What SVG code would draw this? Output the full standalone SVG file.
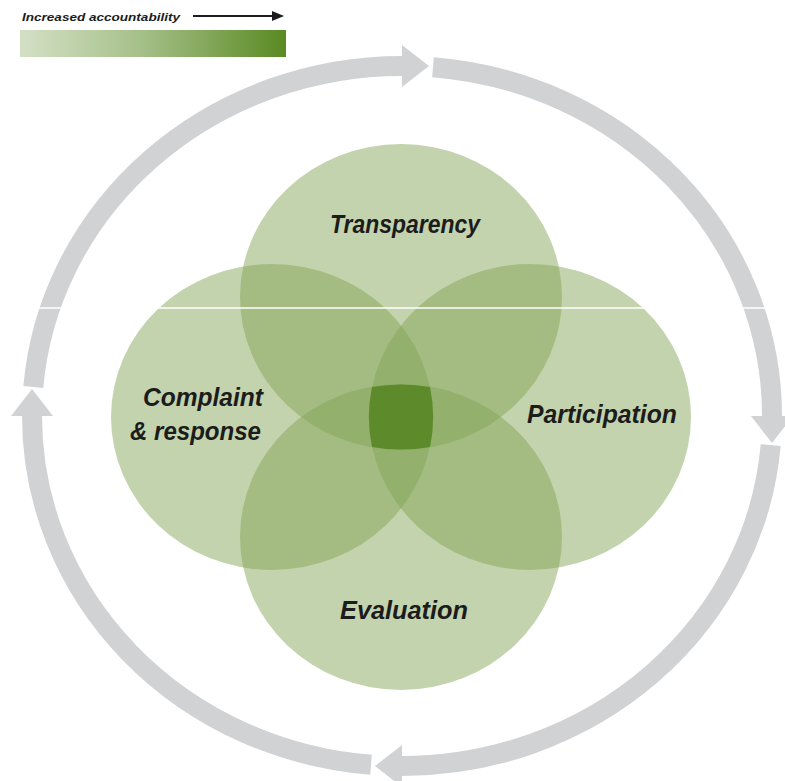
<svg xmlns="http://www.w3.org/2000/svg" width="785" height="781" viewBox="0 0 785 781">
<defs>
<style>
.lbl{font-family:"Liberation Sans",Arial,sans-serif;font-weight:bold;font-style:italic;font-size:25px;fill:#1c1c1c}
.leg{font-family:"Liberation Sans",Arial,sans-serif;font-weight:bold;font-style:italic;font-size:11px;fill:#1c1c1c}
.ring{fill:none;stroke:#d1d2d4;stroke-width:20;stroke-linecap:butt;marker-end:url(#ah)}
.petal{fill:#82a354;fill-opacity:0.48}
</style>
<linearGradient id="grad" x1="0" y1="0" x2="1" y2="0">
<stop offset="0" stop-color="#d4e0c6"/>
<stop offset="0.45" stop-color="#a6c08a"/>
<stop offset="1" stop-color="#5a8a22"/>
</linearGradient>
<marker id="ah" markerUnits="userSpaceOnUse" viewBox="0 0 27 42" refX="0" refY="21" markerWidth="27" markerHeight="42" orient="auto">
<path d="M0,0 L27,21 L0,42 Z" fill="#d1d2d4"/>
</marker>
<marker id="lah" markerUnits="userSpaceOnUse" viewBox="0 0 12 10" refX="0" refY="5" markerWidth="12" markerHeight="10" orient="auto">
<path d="M0,0 L12,5 L0,10 Z" fill="#1c1c1c"/>
</marker>
</defs>
<rect width="785" height="781" fill="#ffffff"/>

<g id="legend">
<text class="leg" x="22" y="21" textLength="158" lengthAdjust="spacingAndGlyphs">Increased accountability</text>
<line x1="193" y1="16" x2="272" y2="16" stroke="#1c1c1c" stroke-width="2" marker-end="url(#lah)"/>
<rect x="20" y="30" width="266" height="27" fill="url(#grad)"/>
</g>

<g id="connectors">
<path class="ring" d="M33.3,387 A370,350 0 0 1 402,66"/>
<path class="ring" d="M433,67.2 A370,350 0 0 1 772,416"/>
<path class="ring" d="M770.7,445 A370,350 0 0 1 402,766"/>
<path class="ring" d="M371,764.8 A370,350 0 0 1 32,416"/>
</g>

<g id="transparency">
<ellipse class="petal" cx="401" cy="297" rx="161" ry="153"/>
</g>
<g id="complaint">
<ellipse class="petal" cx="272" cy="417" rx="161" ry="153"/>
</g>
<g id="participation">
<ellipse class="petal" cx="530" cy="417" rx="161" ry="153"/>
</g>
<g id="evaluation">
<ellipse class="petal" cx="401" cy="537" rx="161" ry="153"/>
</g>
<g id="core">
<path d="M372,387 A161,153 0 0 1 430,387 A161,153 0 0 1 430,447 A161,153 0 0 1 372,447 A161,153 0 0 1 372,387 Z" fill="#5d8a2b"/>
</g>

<line x1="30" y1="308" x2="785" y2="308" stroke="#ffffff" stroke-width="1.5"/>

<g id="labels">
<text class="lbl" x="330" y="233" textLength="150" lengthAdjust="spacingAndGlyphs">Transparency</text>
<text class="lbl" x="143" y="406" textLength="120" lengthAdjust="spacingAndGlyphs">Complaint</text>
<text class="lbl" x="130" y="440" textLength="131" lengthAdjust="spacingAndGlyphs">&amp; response</text>
<text class="lbl" x="527" y="423" textLength="150" lengthAdjust="spacingAndGlyphs">Participation</text>
<text class="lbl" x="340" y="619" textLength="128" lengthAdjust="spacingAndGlyphs">Evaluation</text>
</g>
</svg>
